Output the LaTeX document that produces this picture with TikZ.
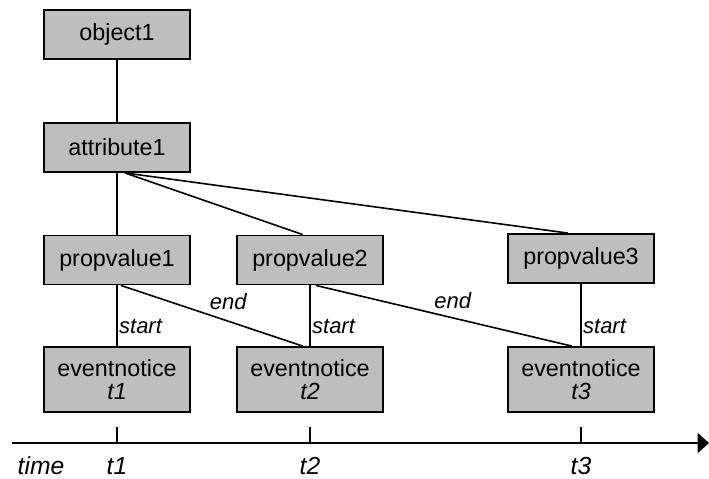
\documentclass[tikz,border=0pt]{standalone}
\usepackage{fontspec}
\setmainfont{Liberation Sans}
\usetikzlibrary{arrows.meta}
\definecolor{boxgray}{RGB}{190,190,190}
\begin{document}
\begin{tikzpicture}[x=0.75pt,y=-0.75pt,
  box/.style={draw=black, line width=1.4pt, fill=boxgray, minimum width=109.5pt, minimum height=36.75pt, inner sep=0pt, align=center, font=\fontsize{17.5}{17}\selectfont},
  evbox/.style={box, minimum height=48.75pt},
  conn/.style={line width=1.2pt},
  lab/.style={font=\fontsize{16.5}{18}\selectfont\itshape, inner sep=1pt},
  axlab/.style={font=\fontsize{18.5}{20}\selectfont\itshape, inner sep=1pt}]
\useasboundingbox (0,0) rectangle (709,478);
\node[box] (o1) at (117,34.5) {object1};
\node[box] (a1) at (117,147.5) {attribute1};
\node[box] (p1) at (117,260) {propvalue1};
\node[box] (p2) at (310,260) {propvalue2};
\node[box] (p3) at (581,258.5) {propvalue3};
\node[evbox] (e1) at (117,379.5) {eventnotice\\\textit{t1}};
\node[evbox] (e2) at (310,379.5) {eventnotice\\\textit{t2}};
\node[evbox] (e3) at (581,379.5) {eventnotice\\\textit{t3}};
\draw[conn] (o1) -- (a1);
\draw[conn] (a1) -- (p1);
\draw[conn] ([xshift=6pt]a1.south) -- ([xshift=-5.5pt]p2.north);
\draw[conn] ([xshift=6pt]a1.south) -- ([xshift=-10pt]p3.north);
\draw[conn] (p1) -- node[lab, pos=0.68, anchor=west] {start} (e1);
\draw[conn] (p2) -- node[lab, pos=0.68, anchor=west] {start} (e2);
\draw[conn] (p3) -- node[lab, pos=0.68, anchor=west] {start} (e3);
\draw[conn] ([xshift=3pt]p1.south) -- node[lab, pos=0.59, above=7pt] {end} ([xshift=-5.5pt]e2.north);
\draw[conn] ([xshift=4.5pt]p2.south) -- node[lab, pos=0.535, above=5pt] {end} ([xshift=-7pt]e3.north);
\coordinate (ax0) at (12,443);
\coordinate (ax1) at (709,443);
\draw[conn, -{Triangle[length=8.5pt,width=15pt]}] (ax0) -- (ax1);
\foreach \x/\n in {117/1,310/2,581/3}{
  \coordinate (tk\n) at (\x,443);
  \draw[conn] (tk\n) -- ++(0,-16);
  \node[axlab] (tl\n) at (\x,466) {t\n};
}
\node[axlab] (time) at (41,466) {time};
\end{tikzpicture}
\end{document}
